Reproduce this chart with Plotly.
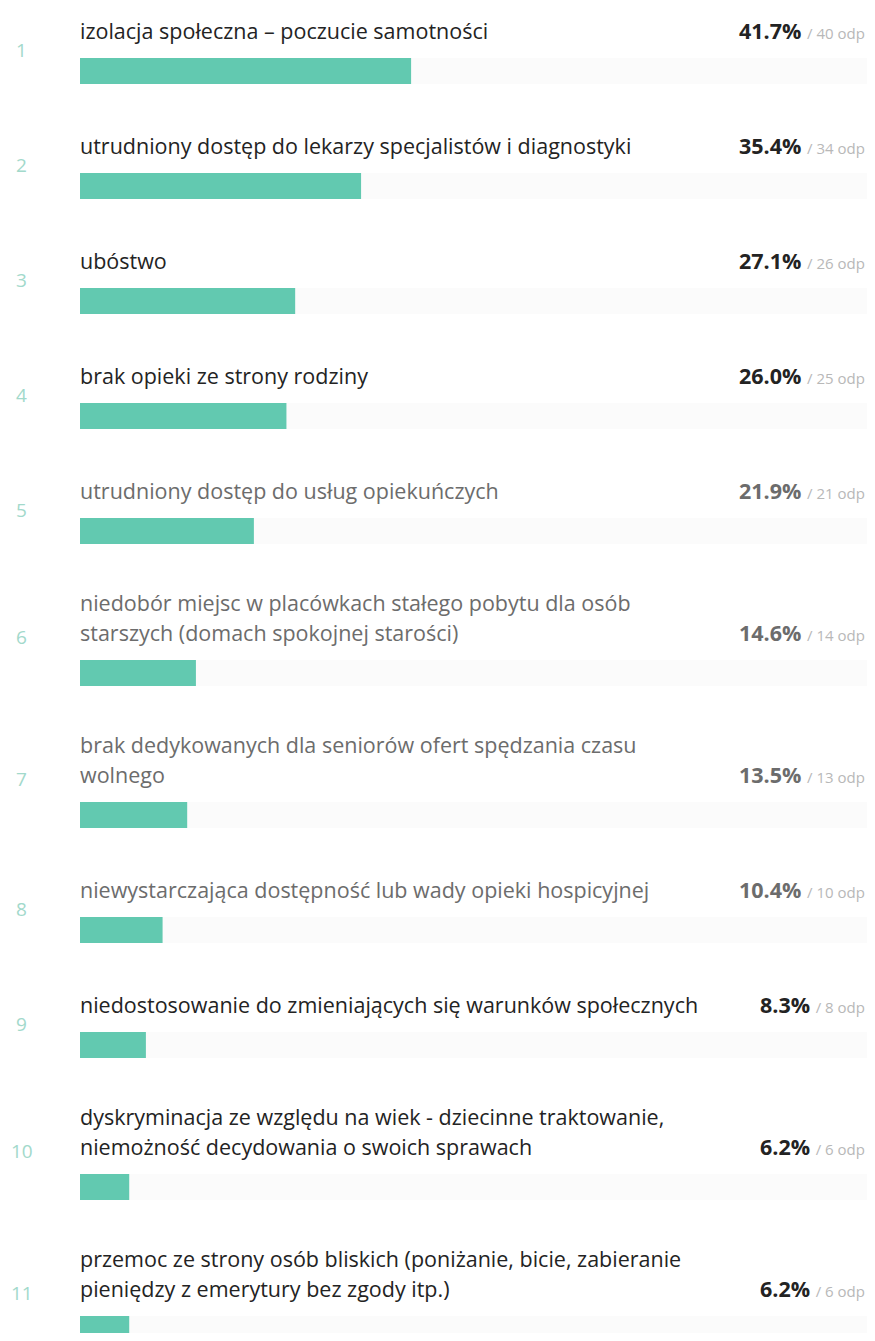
import plotly.graph_objects as go

# ---- data ----
ranks = [1, 2, 3, 4, 5, 6, 7, 8, 9, 10, 11]
labels = [
    "izolacja społeczna – poczucie samotności",
    "utrudniony dostęp do lekarzy specjalistów i diagnostyki",
    "ubóstwo",
    "brak opieki ze strony rodziny",
    "utrudniony dostęp do usług opiekuńczych",
    "niedobór miejsc w placówkach stałego pobytu dla osób<br>starszych (domach spokojnej starości)",
    "brak dedykowanych dla seniorów ofert spędzania czasu<br>wolnego",
    "niewystarczająca dostępność lub wady opieki hospicyjnej",
    "niedostosowanie do zmieniających się warunków społecznych",
    "dyskryminacja ze względu na wiek - dziecinne traktowanie,<br>niemożność decydowania o swoich sprawach",
    "przemoc ze strony osób bliskich (poniżanie, bicie, zabieranie<br>pieniędzy z emerytury bez zgody itp.)",
]
percents = [41.7, 35.4, 27.1, 26.0, 21.9, 14.6, 13.5, 10.4, 8.3, 6.2, 6.2]
counts = [40, 34, 26, 25, 21, 14, 13, 10, 8, 6, 6]
muted_rows = [5, 6, 7, 8]

# ---- layout helpers (page pixel coordinates; page body has an 8px margin) ----
PAGE_W, PAGE_H = 875, 1341
OFF = 8
W, H = PAGE_W - 2 * OFF, PAGE_H - 2 * OFF
BAR_X0 = 80
BAR_FULL = 874          # pixel where 100% would end
BAR_X1 = PAGE_W - OFF   # visible right edge of the plot area
PITCH = 115
EXTRA = 27
LINE_H = 30
TEAL = "#62c9b0"
NUM_COL = "#a2d9cb"
DARK = "#232323"
MUTED = "#6c6c6c"
FONT = "Open Sans"
FS = 21.5


def px(xp):
    return (xp - OFF) / W


bar_y = []
y = 71
for i, lab in enumerate(labels):
    n = lab.count("<br>") + 1
    if i > 0:
        y += PITCH + EXTRA * (n - 1)
    bar_y.append(y)

fig = go.Figure()
fig.add_trace(go.Bar(
    x=[100] * len(ranks), y=bar_y, orientation="h", width=26,
    marker=dict(color="#fbfbfb", cornerradius=5, line=dict(width=0)),
    hoverinfo="skip", showlegend=False,
))
fig.add_trace(go.Bar(
    x=percents, y=bar_y, orientation="h", width=26,
    marker=dict(color=TEAL, cornerradius=5, line=dict(width=0)),
    showlegend=False,
))

ann = []
for r, lab, p, c, by in zip(ranks, labels, percents, counts, bar_y):
    lines = lab.split("<br>")
    n = len(lines)
    last_y = by - 41
    first_y = last_y - LINE_H * (n - 1)
    col = MUTED if r in muted_rows else DARK
    for k, ln in enumerate(lines):
        ann.append(dict(x=px(BAR_X0 - 2), xref="paper", y=first_y + k * LINE_H, yref="y",
                        text=ln, showarrow=False, xanchor="left", yanchor="middle",
                        font=dict(family=FONT, size=FS, color=col)))
    ann.append(dict(x=px(22), xref="paper", y=(first_y + by) / 2 - 1, yref="y",
                    text=str(r), showarrow=False, xanchor="center", yanchor="middle",
                    font=dict(family=FONT, size=19, color=NUM_COL)))
    ann.append(dict(x=px(BAR_X1), xref="paper", y=last_y, yref="y",
                    text=f"<b>{p:.1f}%</b> <span style='font-size:15px;color:#b8b8b8'>/ {c} odp</span>",
                    showarrow=False, xanchor="right", yanchor="middle",
                    font=dict(family=FONT, size=FS, color=col)))

x_max = 100 * (BAR_X1 - BAR_X0) / (BAR_FULL - BAR_X0)

fig.update_layout(
    width=W, height=H,
    margin=dict(l=0, r=0, t=0, b=0),
    paper_bgcolor="white", plot_bgcolor="white",
    barmode="overlay",
    xaxis=dict(range=[0, x_max], domain=[px(BAR_X0), 1], visible=False, fixedrange=True),
    yaxis=dict(range=[PAGE_H - OFF, OFF], visible=False, fixedrange=True),
    annotations=ann,
)

fig.write_html("out.html")
